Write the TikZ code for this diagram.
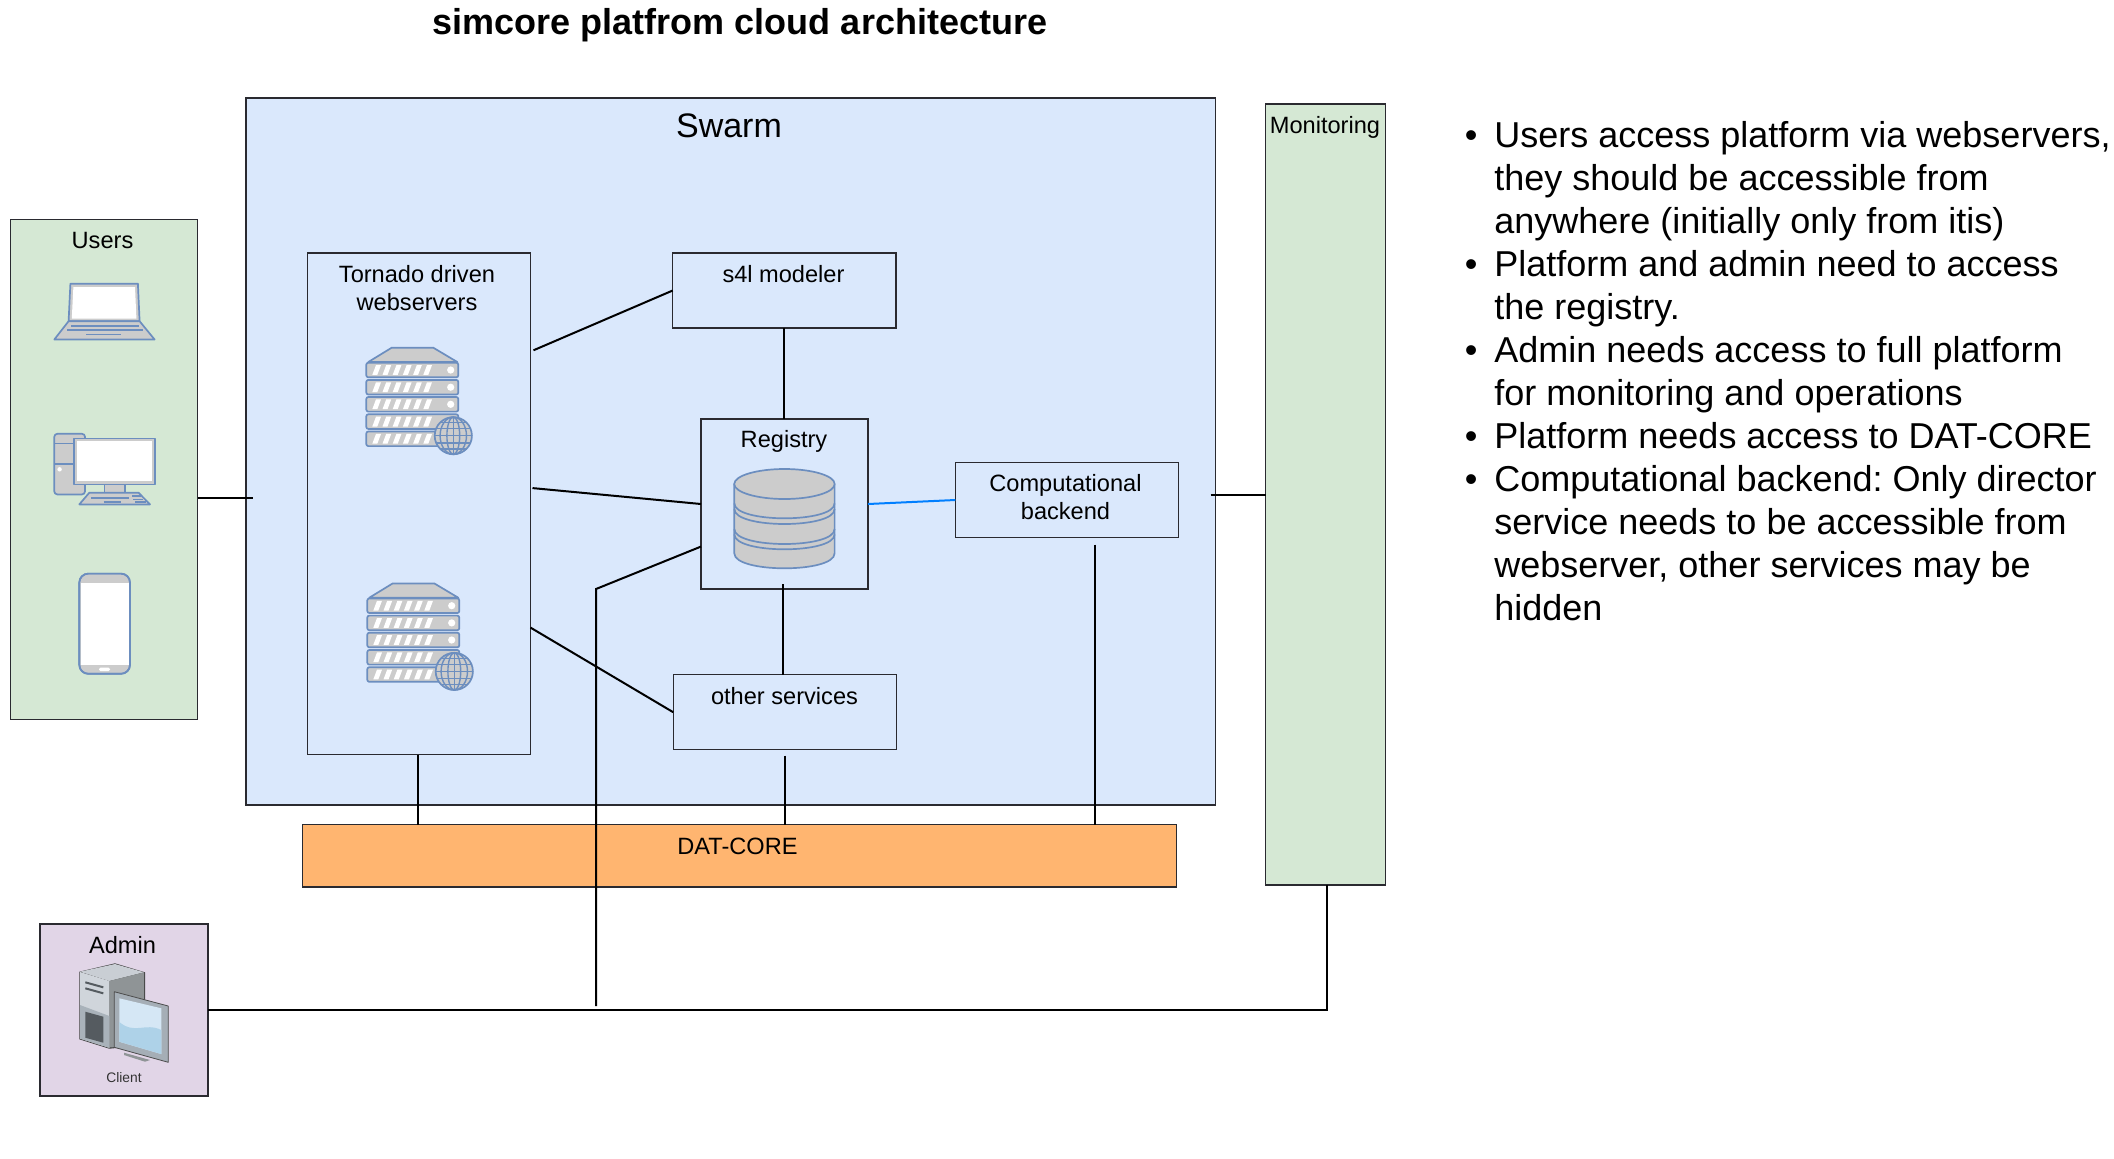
\documentclass[tikz,border=0pt]{standalone}
\usepackage{fontspec}
\setmainfont{Liberation Sans}
\definecolor{iconblue}{HTML}{6C8EBF}
\definecolor{icongray}{HTML}{CCCCCC}
\definecolor{swarmfill}{HTML}{DAE8FC}
\definecolor{greenfill}{HTML}{D5E8D4}
\definecolor{purplefill}{HTML}{E1D5E7}
\definecolor{orangefill}{HTML}{FFB570}
\definecolor{linkblue}{HTML}{007FFF}
\definecolor{edgegray}{HTML}{2A2A30}
\tikzset{
  boxbase/.style={draw=edgegray,line width=0.7pt,inner sep=0pt,outer sep=0pt},
  swarmbox/.style={boxbase,fill=swarmfill},
  greenbox/.style={boxbase,fill=greenfill},
  purplebox/.style={boxbase,fill=purplefill},
  orangebox/.style={boxbase,fill=orangefill},
  lab/.style={inner sep=0pt,outer sep=0pt,align=center,font=\fontsize{11.8}{13.6}\selectfont},
  conn/.style={draw=black,line width=1pt},
  ico/.style={draw=iconblue,fill=icongray,line width=0.85pt,line join=round},
  icoline/.style={draw=iconblue,line width=0.85pt},
  webserver/.pic={
    \path[ico] (368.3,362)--(391.7,347.7)--(433.3,347.7)--(457.3,362)--cycle;
    \foreach \u in {362.7,379.9,397,414.3,431.5}{
      \path[ico,rounded corners=1pt] (366.3,\u) rectangle (458.3,\u+14.6);
      \foreach \s in {0,1,2,3,4,5}{
        \fill[white] ({372.3+10.2*\s},\u+12.2)--({377.3+10.2*\s},\u+12.2)--({381*1+10.2*\s},\u+2.4)--({376+10.2*\s},\u+2.4)--cycle;
      }
    }
    \foreach \u in {370,387.2,404.3}{\fill[white] (450.7,\u) circle[radius=1.8pt];}
    \path[ico] (453.3,435.7) circle[radius=9.3pt];
    \draw[icoline,line width=0.7pt] (453.3,435.7) circle[x radius=6.6pt,y radius=9.3pt];
    \draw[icoline,line width=0.7pt] (453.3,435.7) circle[x radius=3.2pt,y radius=9.3pt];
    \draw[icoline,line width=0.7pt] (453.3,417.1)--(453.3,454.3);
    \draw[icoline,line width=0.7pt] (434.7,435.7)--(471.9,435.7);
    \draw[icoline,line width=0.7pt] (436.3,428.5)--(470.3,428.5);
    \draw[icoline,line width=0.7pt] (436.3,442.9)--(470.3,442.9);
    \draw[icoline,line width=0.7pt] (440,422.5)--(466.6,422.5);
    \draw[icoline,line width=0.7pt] (440,448.9)--(466.6,448.9);
  }
}
\newcommand{\pbox}[6]{\node[#1,minimum width={(#5-#3)*0.5pt},minimum height={(#6-#4)*0.5pt}] (#2) at ({(#3+#5)/2},{(#4+#6)/2}) {};}
\begin{document}
\frenchspacing
\begin{tikzpicture}[x=0.5pt,y=-0.5pt]
\useasboundingbox (0,0) rectangle (2114,1158);
% title
\node[lab,font=\fontsize{18}{21}\selectfont\bfseries] (title) at (740,25) {simcore platfrom cloud architecture};
% containers
\pbox{swarmbox}{swarm}{246}{98}{1215.5}{805}
\pbox{greenbox}{mon}{1265.5}{104}{1385.5}{885}
\pbox{greenbox}{users}{10.7}{219.5}{197.5}{719.5}
\pbox{swarmbox}{tornado}{307.5}{253}{530.5}{754.5}
\pbox{swarmbox}{s4l}{672.7}{253}{896}{328}
\pbox{swarmbox}{registry}{701}{419}{868}{589}
\pbox{swarmbox}{comp}{955.3}{462.5}{1178.6}{537.5}
\pbox{swarmbox}{other}{673.2}{674.7}{896.5}{749.7}
\pbox{orangebox}{dat}{302.5}{824.7}{1176.5}{887}
\pbox{purplebox}{admin}{40}{924}{208}{1096}
% labels
\node[lab,font=\fontsize{17}{20}\selectfont] (swarmlab) at (729,126) {Swarm};
\node[lab] (monlab) at (1325,127) {Monitoring};
\node[lab] (userslab) at (102.5,240) {Users};
\node[lab,align=center] (tornadolab) at (417,288) {Tornado driven\\webservers};
\node[lab] (s4llab) at (783.5,274) {s4l modeler};
\node[lab] (reglab) at (784,441) {Registry};
\node[lab,align=center] (complab) at (1065.5,497) {Computational\\backend};
\node[lab] (otherlab) at (784.5,696) {other services};
\node[lab] (datlab) at (737.5,846) {DAT-CORE};
\node[lab] (adminlab) at (122.5,945.5) {Admin};
\node[lab,font=\fontsize{6.9}{8}\selectfont,text=black!80] (clientlab) at (124,1078) {Client};
% laptop
\path[ico] (70.4,283.7)--(137.9,283.7)--(139.6,321.2)--(68.6,321.2)--cycle;
\fill[white] (73.4,287)--(135,287)--(136.4,318.5)--(71.8,318.5)--cycle;
\path[ico] (68.6,321.2)--(139.6,321.2)--(154.6,339.5)--(54.3,339.5)--cycle;
\draw[icoline] (71.4,325.7)--(138.6,325.7) (67.1,330.2)--(142.9,330.2) (86.4,334.6)--(120.7,334.6);
% desktop
\path[ico,rounded corners=1.5pt] (54.3,433.8) rectangle (85,494.4);
\draw[icoline] (54.3,443.5)--(75,443.5) (54.3,463.8)--(75,463.8);
\fill[white] (59.6,469.3) circle[radius=1.1pt];
\path[ico] (104.6,484)--(125,484)--(125,492.7)--(104.6,492.7)--cycle;
\path[ico] (74.3,438.6) rectangle (155,484.4);
\fill[white] (77.1,441) rectangle (152.1,481.3);
\path[ico] (89.3,492.7)--(138.6,492.7)--(150,504.4)--(79.3,504.4)--cycle;
\draw[icoline] (91,498.2)--(128.6,498.2) (103.6,501.7)--(121.4,501.7) (132,496)--(141,496) (133,499.5)--(143,499.5) (135,502)--(146,502);
% phone
\path[ico,rounded corners=4.5pt] (79.3,573.6) rectangle (130,673.8);
\fill[white] (80.6,583) rectangle (128.7,665);
\fill[white,rounded corners=0.8pt] (99,667.6) rectangle (110,671.2);
\path[draw=iconblue,line width=0.85pt,rounded corners=4.5pt] (79.3,573.6) rectangle (130,673.8);
% web servers
\pic at (0,0) {webserver};
\pic at (1,235.7) {webserver};
% database
\path[ico] (734.3,484)--(734.3,553.3) .. controls (734.3,573.3) and (834.6,573.3) .. (834.6,553.3)--(834.6,484)--cycle;
\foreach \yy in {503.3,509,529,534.3}{
  \draw[icoline] (734.3,\yy) .. controls (734.3,\yy+20) and (834.6,\yy+20) .. (834.6,\yy);
}
\path[ico] (784.45,484) circle[x radius=25.1pt,y radius=7.5pt];
% client computer
\definecolor{ctop}{HTML}{C9CED4}
\definecolor{cleft}{HTML}{D0D5DB}
\definecolor{clow}{HTML}{A9B2BA}
\definecolor{cright}{HTML}{8F9496}
\definecolor{cdark}{HTML}{555B60}
\definecolor{cscreen}{HTML}{D5E7F5}
\definecolor{cwave}{HTML}{AED2E8}
\definecolor{cframe}{HTML}{A5AEB6}
\begin{scope}[line join=round]
\fill[black!75] (79.3,971.7)--(115,963.3)--(145,972.3)--(145,1045)--(109.3,1048.7)--(79.3,1039.3)--cycle;
\fill[ctop] (80,971.7)--(115,964)--(144,972.3)--(109.3,981)--cycle;
\fill[cright] (109.3,981)--(144,972.3)--(144,1045)--(109.3,1047.5)--cycle;
\fill[cleft] (80,972)--(109.3,981)--(109.3,1047.8)--(80,1038.6)--cycle;
\fill[clow] (80,1005)--(109.3,1016)--(109.3,1047.8)--(80,1038.6)--cycle;
\fill[cdark] (85.3,1011.7)--(103.3,1016.7)--(103.3,1042.7)--(85.3,1037.7)--cycle;
\draw[cdark,line width=1pt] (85.3,982.3)--(103.3,987.3) (85.3,988.3)--(103.3,993.3);
\fill[cright] (124,1052.7)--(150,1060)--(145,1061.7)--(124,1055)--cycle;
\draw[black!70,fill=cframe,line width=0.4pt] (114.3,991.7)--(168.3,1006)--(168.3,1062.3)--(114.3,1047.3)--cycle;
\fill[cscreen] (119.3,998.3)--(161.3,1008.3)--(161.3,1054)--(119.3,1041.7)--cycle;
\fill[cwave] (119.3,1022)..controls (135,1035) and (145,1022)..(161.3,1030)--(161.3,1054)--(119.3,1041.7)--cycle;
\end{scope}
% connectors
\coordinate (swarmin) at (252.5,498);
\coordinate (adminend) at (596,1006);
\coordinate (adminbend) at (596,589);
\draw[conn] (users.east |- swarmin) -- (swarmin);
\draw[conn] ([xshift=1.5pt]tornado.54.3) -- (s4l.west);
\draw[conn] ([xshift=1pt]tornado.8.1) -- (registry.west);
\draw[conn] (tornado.-48.1) -- (other.west);
\draw[conn] (s4l.south) -- (s4l.south |- registry.north);
\draw[conn] ([xshift=-0.75pt,yshift=2.5pt]registry.south) -- ([xshift=-0.75pt]registry.south |- other.north);
\draw[conn,draw=linkblue] (registry.east) -- (comp.west);
\draw[conn] ([xshift=14pt,yshift=-3.5pt]comp.south) -- ([xshift=14pt]comp.south |- dat.north);
\draw[conn] ([xshift=-0.5pt]tornado.south) -- ([xshift=-0.5pt]tornado.south |- dat.north);
\draw[conn] ([yshift=-3pt]other.south) -- (other.south |- dat.north);
\draw[conn] ([xshift=-2.5pt]mon.west -| swarm.east) -- (mon.west);
\draw[conn] (admin.east) -- ([xshift=0.75pt]mon.south |- admin.east) -- ([xshift=0.75pt]mon.south);
\draw[conn] (adminend) -- (adminbend) -- (registry.207.8);
% notes
\node[anchor=north west,inner sep=0pt,align=left,font=\fontsize{18}{21.5}\selectfont] (notes) at (1494,121) {%
\llap{•\hspace{8.5pt}}Users access platform via webservers,\\
they should be accessible from\\
anywhere (initially only from itis)\\
\llap{•\hspace{8.5pt}}Platform and admin need to access\\
the registry.\\
\llap{•\hspace{8.5pt}}Admin needs access to full platform\\
for monitoring and operations\\
\llap{•\hspace{8.5pt}}Platform needs access to DAT-CORE\\
\llap{•\hspace{8.5pt}}Computational backend: Only director\\
service needs to be accessible from\\
webserver, other services may be\\
hidden};
\end{tikzpicture}
\end{document}
